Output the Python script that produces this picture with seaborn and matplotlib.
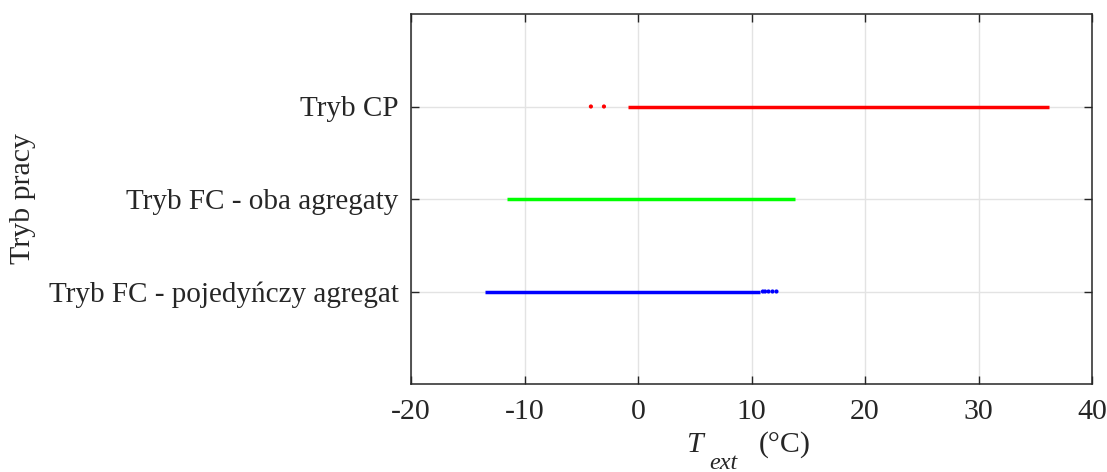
import matplotlib
matplotlib.use("Agg")
import matplotlib.pyplot as plt
import seaborn as sns
import pandas as pd

# ---- data ----
modes = ["Tryb FC - pojedyńczy agregat", "Tryb FC - oba agregaty", "Tryb CP"]
mode_pos = [1, 2, 3]
mode_colors = ["#0000FF", "#00FF00", "#FF0000"]

# continuous bands of observed temperatures (start, end) per mode
blue_seg_start = [-13.5]
blue_seg_end = [10.75]
green_seg_start = [-11.55]
green_seg_end = [13.85]
red_seg_start = [-0.85]
red_seg_end = [36.25]

# isolated observations
blue_pts = [11.0, 11.2, 11.5, 11.85, 12.2]
green_pts = []
red_pts = [-4.15, -3.0]

x_ticks = [-20, -10, 0, 10, 20, 30, 40]

# ---- style ----
sns.set_theme(style="white")
plt.rcParams["font.family"] = ["Liberation Serif", "DejaVu Serif"]

W, H = 1107, 472
fig = plt.figure(figsize=(W / 100, H / 100), dpi=100)
ax = fig.add_axes([411 / W, 1 - 384 / H, (1092 - 411) / W, (384 - 14) / H])

segs = [(blue_seg_start, blue_seg_end), (green_seg_start, green_seg_end), (red_seg_start, red_seg_end)]
pts = [blue_pts, green_pts, red_pts]

for (s, e), p, y, c in zip(segs, pts, mode_pos, mode_colors):
    ax.hlines([y] * len(s), s, e, colors=c, linewidth=2.5, zorder=3)
    if p:
        df = pd.DataFrame({"T": p, "y": [y] * len(p)})
        sns.scatterplot(data=df, x="T", y="y", ax=ax, color=c, s=9,
                        edgecolor="none", zorder=3, legend=False)

ax.set_xlim(-20, 40)
ax.set_ylim(0, 4)
ax.set_xticks(x_ticks)
ax.set_xticklabels([str(t) for t in x_ticks])
ax.set_yticks(mode_pos)
ax.set_yticklabels(modes)

ax.grid(True, color="#e3e3e3", linewidth=1.0, zorder=0)
ax.set_axisbelow(True)

for sp in ax.spines.values():
    sp.set_color("#262626")
    sp.set_linewidth(1.1)

ax.tick_params(axis="both", which="both", direction="in", length=6, width=1.0,
               color="#262626", labelsize=21, labelcolor="#262626",
               top=True, right=True, bottom=True, left=True)
ax.tick_params(axis="x", pad=11, labelsize=21.5)
ax.tick_params(axis="y", pad=9)

ax.set_xlabel("")
ax.set_ylabel("Tryb pracy", fontsize=21.5, color="#262626")
ax.yaxis.set_label_coords(-0.55, 0.5)

# x label: T_ext (°C), MATLAB-style low subscript
def fx(px):
    return px / W

def fy(py):
    return 1 - py / H

fig.text(fx(686), fy(452), "T", fontsize=21.5, style="italic", color="#262626",
         ha="left", va="baseline")
fig.text(fx(709), fy(469), "ext", fontsize=17.5, style="italic", color="#262626",
         ha="left", va="baseline")
fig.text(fx(759), fy(452), "(°C)", fontsize=21.5, color="#262626",
         ha="left", va="baseline")

fig.savefig("out.png", dpi=100)
